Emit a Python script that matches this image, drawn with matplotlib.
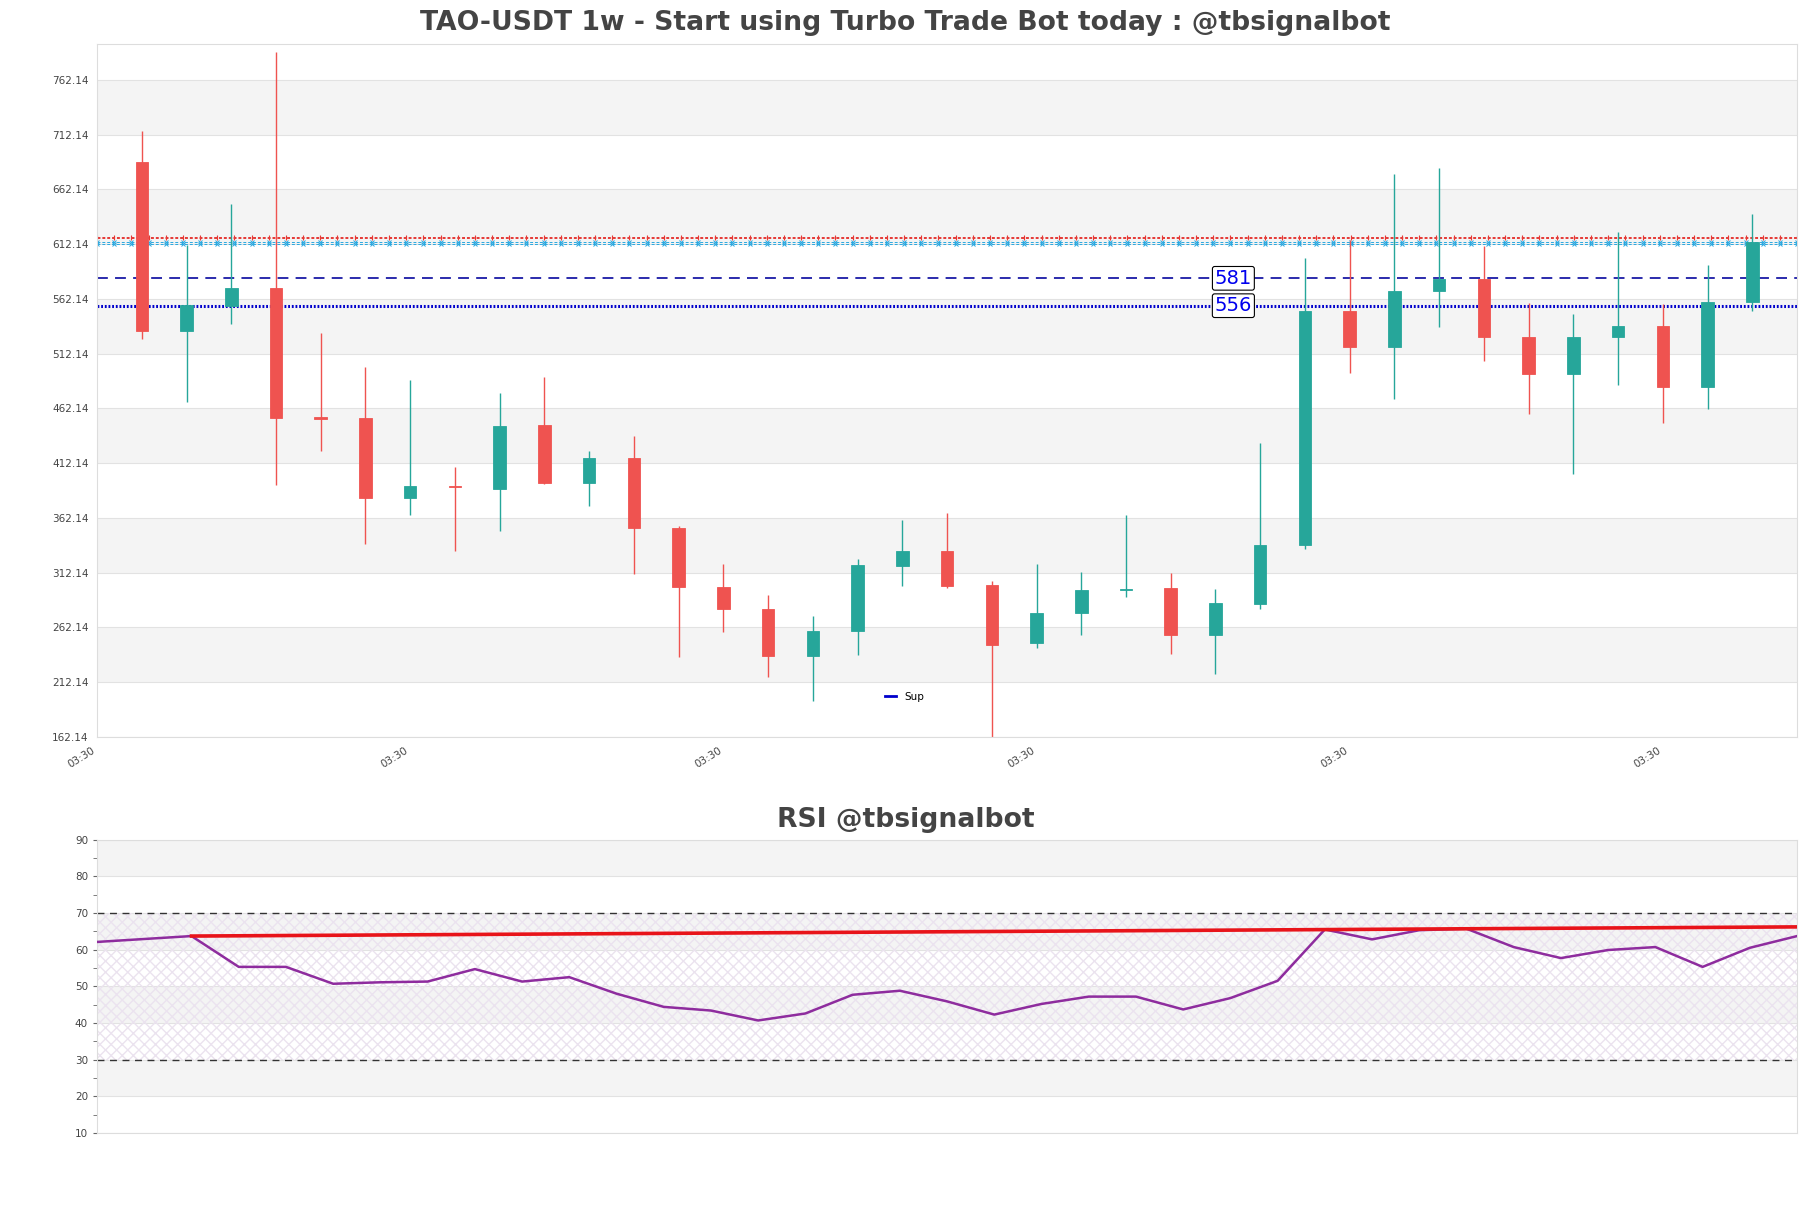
import numpy as np
import matplotlib
matplotlib.use("Agg")
import matplotlib.pyplot as plt

# Weekly candles
opens = [687.3, 533.3, 555.5, 572.3, 454.0, 453.2, 380.4, 391.5, 388.9, 446.9,
         394.1, 417.3, 353.0, 299.2, 279.2, 235.9, 259.2, 318.2, 331.9, 301.3,
         247.6, 275.0, 296.1, 298.2, 254.9, 283.4, 337.2, 551.2, 518.6, 569.2,
         580.8, 527.0, 493.3, 527.0, 537.5, 481.6, 559.7]
highs = [715.8, 611.3, 649.3, 787.5, 531.2, 499.6, 488.0, 408.9, 476.4, 491.1,
         423.7, 437.4, 355.1, 320.3, 291.8, 272.9, 324.5, 360.4, 366.7, 304.5,
         320.3, 312.9, 364.6, 311.9, 297.1, 431.0, 599.8, 615.6, 676.7, 682.0,
         610.3, 558.6, 548.1, 622.9, 557.6, 593.4, 639.8]
lows = [525.9, 467.9, 539.7, 392.0, 423.7, 338.2, 364.6, 331.9, 349.8, 393.0,
        373.0, 310.8, 234.9, 258.1, 217.0, 194.8, 237.0, 300.3, 298.2, 162.14,
        243.3, 254.9, 289.7, 238.1, 220.1, 279.2, 334.0, 494.3, 471.1, 536.5,
        505.9, 457.4, 402.6, 483.8, 449.0, 461.6, 551.2]
closes = [533.3, 556.5, 572.3, 453.2, 452.5, 380.4, 391.0, 390.0, 445.8, 394.1,
          417.3, 353.0, 299.2, 279.2, 235.9, 259.2, 319.3, 331.9, 300.3, 246.5,
          275.0, 296.1, 297.5, 254.9, 284.5, 337.2, 551.2, 518.6, 569.2, 580.8,
          527.0, 493.3, 527.0, 537.5, 481.6, 559.7, 614.5]

rsi = [62.1, 62.9, 63.7, 55.3, 55.3, 50.7, 51.1, 51.3, 54.7, 51.3,
       52.5, 48.0, 44.4, 43.4, 40.7, 42.6, 47.7, 48.8, 45.9, 42.3,
       45.2, 47.2, 47.2, 43.7, 46.8, 51.5, 65.5, 62.8, 65.3, 65.7,
       60.7, 57.7, 59.9, 60.7, 55.3, 60.5, 63.7]

support_levels = [581, 556]
resist_red = [619.0, 617.5]
resist_cyan = [614.0, 612.5]
rsi_trend = [(2, 63.7), (36, 66.2)]
tick_label = "03:30"

UP = "#26a69a"
DOWN = "#ef5350"
TXT = "#444444"

fig = plt.figure(figsize=(18.11, 12.08), dpi=100)
ax = fig.add_axes([0.0536, 0.3899, 0.9387, 0.5737])
ax2 = fig.add_axes([0.0536, 0.062, 0.9387, 0.243])

n = len(opens)
x = np.arange(n)

# background bands + grid
ymin, ymax = 162.14, 795.0
levels = [162.14 + 50 * k for k in range(13)]
for k, lv in enumerate(levels[:-1]):
    if k % 2 == 1:
        ax.axhspan(lv, lv + 50, color="#f4f4f4", zorder=0, lw=0)
for lv in levels:
    ax.axhline(lv, color="#e2e2e2", lw=0.8, zorder=0.5)

# resistance bands
xs = np.linspace(-1, 37, 100)
for lv in resist_red:
    ax.plot(xs, [lv] * len(xs), color="#e53935", lw=0.7, ls=(0, (3, 2)),
            marker="|", ms=3, mew=0.8, zorder=1)
for lv in resist_cyan:
    ax.plot(xs, [lv] * len(xs), color="#29a8e0", lw=0.7, ls=(0, (3, 2)),
            marker="x", ms=2.5, mew=0.7, zorder=1)

# candles
for i in range(n):
    c = UP if closes[i] >= opens[i] else DOWN
    ax.vlines(x[i], lows[i], highs[i], color=c, lw=1.0, zorder=2)
    h = closes[i] - opens[i]
    ax.bar(x[i], h, bottom=opens[i], width=0.28, color=c, edgecolor=c,
           lw=0.6, zorder=3)

# support lines
ax.axhline(support_levels[0], color="#1a1aa6", lw=1.3, ls=(0, (6, 4)), zorder=1.5)
ax.axhline(support_levels[1], color="#0000cc", lw=2.2, ls=(0, (0.6, 0.6)),
           zorder=1.5, label="Sup")
for lv in support_levels:
    ax.text(24.4, lv, str(lv), color="#0000ee", fontsize=14, ha="center",
            va="center", zorder=5,
            bbox=dict(boxstyle="round,pad=0.12", fc="white", ec="black", lw=0.8))

ax.set_xlim(-1, 37)
ax.set_ylim(ymin, ymax)
ax.set_yticks(levels)
ax.set_yticklabels([f"{v:.2f}" for v in levels])
ax.set_xticks([-1, 6, 13, 20, 27, 34])
ax.set_xticklabels([tick_label] * 6, rotation=32, ha="right")
ax.tick_params(axis="both", length=0, labelsize=7.5, labelcolor=TXT, pad=6)
for s in ax.spines.values():
    s.set_color("#dddddd")

leg = ax.legend(loc="center", bbox_to_anchor=(0.475, 0.058), frameon=False,
                fontsize=7.5, handlelength=1.0)
leg.get_lines()[0].set_linestyle("-")
leg.get_lines()[0].set_linewidth(2)

fig.text(0.5, 0.981, "TAO-USDT 1w - Start using Turbo Trade Bot today : @tbsignalbot",
         ha="center", va="center", fontsize=19.2, fontweight="bold", color=TXT)

# RSI panel
for lo in [20, 40, 60, 80]:
    ax2.axhspan(lo, lo + 10, color="#f4f4f4", zorder=0, lw=0)
for lv in range(10, 91, 10):
    ax2.axhline(lv, color="#e2e2e2", lw=0.8, zorder=0.5)
ax2.fill_between([0, n - 1], 30, 70, facecolor="none", edgecolor="#ebe3ef",
                 hatch="xxx", lw=0, zorder=0.6)
ax2.axhline(70, color="#333333", lw=1, ls=(0, (5, 4)), zorder=1)
ax2.axhline(30, color="#333333", lw=1, ls=(0, (5, 4)), zorder=1)
ax2.plot(x, rsi, color="#8e2c9e", lw=1.8, zorder=3)
ax2.plot([rsi_trend[0][0], rsi_trend[1][0]], [rsi_trend[0][1], rsi_trend[1][1]],
         color="#e8141a", lw=2.6, zorder=4)

ax2.set_xlim(0, n - 1)
ax2.set_ylim(10, 90)
ax2.set_yticks(range(10, 91, 10))
ax2.set_yticks(range(15, 90, 10), minor=True)
ax2.set_xticks([])
ax2.tick_params(axis="y", which="both", length=3, color="#666666",
                labelsize=7.5, labelcolor=TXT)
for s in ax2.spines.values():
    s.set_color("#dddddd")
fig.text(0.5, 0.321, "RSI @tbsignalbot", ha="center", va="center",
         fontsize=19.2, fontweight="bold", color=TXT)

fig.savefig("out.png", dpi=100, facecolor="white")
